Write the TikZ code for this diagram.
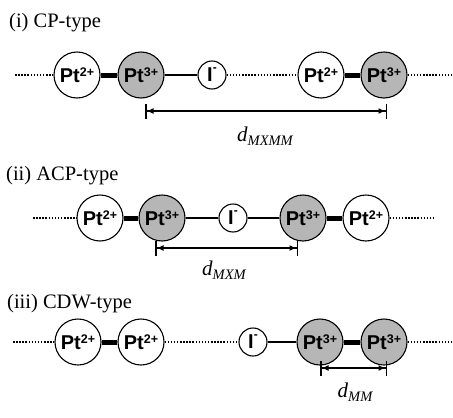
\documentclass[tikz,border=0pt]{standalone}
\usepackage{fontspec}
\setmainfont{Liberation Serif}
\setsansfont{Liberation Sans}
\usetikzlibrary{arrows.meta}
\definecolor{ptgray}{RGB}{182,182,182}
\newcommand{\ption}[1]{\textsf{\bfseries Pt\raisebox{5.6pt}{\fontsize{12.5}{12.5}\selectfont #1}}}
\newcommand{\iodide}{\textsf{\bfseries I\raisebox{10pt}{\fontsize{12}{12}\selectfont -}}}
\newcommand{\dlab}[1]{{\fontsize{21}{21}\selectfont\itshape d}\raisebox{-4.5pt}{\fontsize{14.5}{14.5}\selectfont\itshape #1}}
\tikzset{
  atom/.style={circle, draw, line width=1.1pt, minimum size=46pt, inner sep=0pt,
    font=\fontsize{20}{20}\selectfont},
  ptwo/.style={atom, fill=white},
  pthree/.style={atom, fill=ptgray},
  ion/.style={circle, draw, line width=1.1pt, minimum size=28pt, inner sep=0pt,
    fill=white, font=\fontsize{20}{20}\selectfont},
  mmbond/.style={line width=5pt},
  mxbond/.style={line width=1.5pt},
  weakbond/.style={line width=1.5pt, dash pattern=on 1.5pt off 1.6pt},
  dimline/.style={line width=1.5pt,
    arrows={Bar[width=15pt,line width=1.5pt]Latex[length=7pt,width=6pt]-Latex[length=7pt,width=6pt]Bar[width=15pt,line width=1.5pt]}},
  title/.style={anchor=base west, inner sep=0pt, font=\fontsize{20.5}{21}\selectfont},
  dimlabel/.style={inner sep=0pt}
}
\begin{document}
\begin{tikzpicture}[x=1pt,y=-1pt]
\useasboundingbox (0,0) rectangle (453,418);
% ---------- (i) CP-type
\node[title] (t1) at (9,27) {(i) CP-type};
\node[ptwo] (a1) at (77,75) {\ption{2+}};
\node[pthree] (a2) at (141,75) {\ption{3+}};
\node[ion] (a3) at (212,75) {\iodide};
\node[ptwo] (a4) at (321,75) {\ption{2+}};
\node[pthree] (a5) at (384,75) {\ption{3+}};
\coordinate (l1) at (15,75);
\coordinate (r1) at (453,75);
\draw[weakbond] (l1) -- (a1);
\draw[mmbond] (a1) -- (a2);
\draw[mxbond] (a2) -- (a3);
\draw[weakbond] (a3) -- (a4);
\draw[mmbond] (a4) -- (a5);
\draw[weakbond] (a5) -- (r1);
\coordinate (d1s) at (145,111);
\coordinate (d1e) at (387,111);
\draw[dimline] (d1s) -- (d1e);
\node[dimlabel] (dl1) at (265,136) {\dlab{MXMM}};
% ---------- (ii) ACP-type
\node[title] (t2) at (6,180) {(ii) ACP-type};
\node[ptwo] (b1) at (100,218) {\ption{2+}};
\node[pthree] (b2) at (162,218) {\ption{3+}};
\node[ion] (b3) at (233,218) {\iodide};
\node[pthree] (b4) at (303,218) {\ption{3+}};
\node[ptwo] (b5) at (366,218) {\ption{2+}};
\coordinate (l2) at (33,218);
\coordinate (r2) at (433,218);
\draw[weakbond] (l2) -- (b1);
\draw[mmbond] (b1) -- (b2);
\draw[mxbond] (b2) -- (b3);
\draw[mxbond] (b3) -- (b4);
\draw[mmbond] (b4) -- (b5);
\draw[weakbond] (b5) -- (r2);
\coordinate (d2s) at (155,248);
\coordinate (d2e) at (298,248);
\draw[dimline] (d2s) -- (d2e);
\node[dimlabel] (dl2) at (224,270) {\dlab{MXM}};
% ---------- (iii) CDW-type
\node[title] (t3) at (7,308) {(iii) CDW-type};
\node[ptwo] (c1) at (78,342) {\ption{2+}};
\node[ptwo] (c2) at (141,342) {\ption{2+}};
\node[ion] (c3) at (253,342) {\iodide};
\node[pthree] (c4) at (320,342) {\ption{3+}};
\node[pthree] (c5) at (384,342) {\ption{3+}};
\coordinate (l3) at (13,342);
\coordinate (r3) at (453,342);
\draw[weakbond] (l3) -- (c1);
\draw[mmbond] (c1) -- (c2);
\draw[weakbond] (c2) -- (c3);
\draw[mxbond] (c3) -- (c4);
\draw[mmbond] (c4) -- (c5);
\draw[weakbond] (c5) -- (r3);
\coordinate (d3s) at (320,368);
\coordinate (d3e) at (387,368);
\draw[dimline] (d3s) -- (d3e);
\node[dimlabel] (dl3) at (355,392) {\dlab{MM}};
\end{tikzpicture}
\end{document}
